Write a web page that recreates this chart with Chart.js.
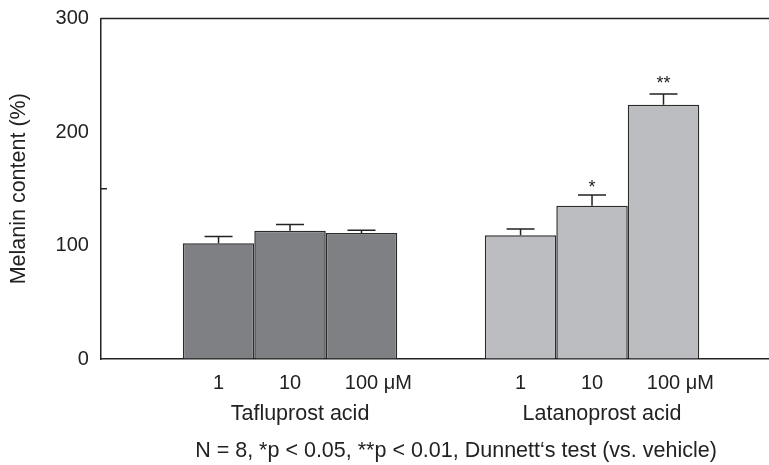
<!DOCTYPE html>
<html>
<head>
<meta charset="utf-8">
<script src="https://cdn.jsdelivr.net/npm/chart.js@4.4.1/dist/chart.umd.min.js"></script>
<style>
  html, body { margin: 0; padding: 0; background: #fff; }
  #wrap { width: 769px; height: 465px; }
</style>
</head>
<body>
<div id="wrap"><canvas id="chart" width="769" height="465"></canvas></div>
<script>
// data
const drugs = ['Tafluprost acid', 'Latanoprost acid'];
const doses = ['1', '10', '100'];
const doseUnit = ' μM';
const tafluprost = [102, 113, 111];
const latanoprost = [109, 135, 224];
const tafluprostSem = [6, 5.5, 2.5];
const latanoprostSem = [5.5, 9.5, 9.5];
const tafluprostSig = ['', '', ''];
const latanoprostSig = ['', '*', '**'];
const yTicks = [0, 100, 200, 300];
const footnote = 'N = 8, *p < 0.05, **p < 0.01, Dunnett\u2018s test (vs. vehicle)';

const values = [tafluprost, latanoprost];
const sems = [tafluprostSem, latanoprostSem];
const sigs = [tafluprostSig, latanoprostSig];
const fills = ['#7f8084', '#bcbdc1'];
const ink = '#222222';
const font = 'Liberation Sans, Arial, Helvetica, sans-serif';

const datasets = doses.map(function (d, i) {
  return {
    label: d,
    data: drugs.map(function (_, g) { return { x: g, y: values[g][i] }; }),
    backgroundColor: fills,
    borderColor: '#2b2b2b',
    borderWidth: 1.5,
    barPercentage: 1,
    categoryPercentage: 0.71
  };
});

// error bars, asterisks, labels under the axis, extra frame bits
const extras = {
  id: 'extras',
  afterDatasetsDraw(chart) {
    const ctx = chart.ctx;
    const y = chart.scales.y;
    const area = chart.chartArea;
    const centres = [0, 0];
    ctx.save();
    ctx.strokeStyle = ink;
    ctx.fillStyle = ink;
    ctx.lineWidth = 1.5;
    doses.forEach(function (d, i) {
      const meta = chart.getDatasetMeta(i);
      meta.data.forEach(function (bar, g) {
        centres[g] += bar.x / doses.length;
        const top = y.getPixelForValue(values[g][i] + sems[g][i]);
        ctx.beginPath();
        ctx.moveTo(bar.x, bar.y);
        ctx.lineTo(bar.x, top);
        ctx.moveTo(bar.x - 14, top);
        ctx.lineTo(bar.x + 14, top);
        ctx.stroke();
        if (sigs[g][i]) {
          ctx.font = '18px ' + font;
          ctx.textAlign = 'center';
          ctx.textBaseline = 'alphabetic';
          ctx.fillText(sigs[g][i], bar.x, top - 2 - 3 * (sigs[g][i].length - 1));
        }
        // dose label, number centred on the bar
        ctx.font = '20px ' + font;
        ctx.textBaseline = 'middle';
        ctx.textAlign = 'left';
        const w = ctx.measureText(d).width;
        const txt = i === doses.length - 1 ? d + doseUnit : d;
        ctx.fillText(txt, bar.x - w / 2, area.bottom + 24);
      });
    });
    // group names
    ctx.font = '21.5px ' + font;
    ctx.textAlign = 'center';
    ctx.textBaseline = 'middle';
    drugs.forEach(function (name, g) {
      ctx.fillText(name, centres[g] + 10, area.bottom + 55);
    });
    // top frame line
    ctx.beginPath();
    ctx.moveTo(area.left, area.top);
    ctx.lineTo(area.right, area.top);
    ctx.stroke();
    // inner minor tick at 150
    const p = y.getPixelForValue(150);
    ctx.beginPath();
    ctx.moveTo(area.left, p);
    ctx.lineTo(area.left + 6, p);
    ctx.stroke();
    // footnote
    ctx.font = '21.5px ' + font;
    ctx.fillText(footnote, 456, 451);
    ctx.restore();
  }
};

new Chart(document.getElementById('chart'), {
  type: 'bar',
  data: { datasets: datasets },
  plugins: [extras],
  options: {
    responsive: false,
    animation: false,
    layout: { padding: { left: 2.6, right: 0, top: 18.5, bottom: 106 } },
    plugins: { legend: { display: false }, tooltip: { enabled: false } },
    scales: {
      x: {
        type: 'linear',
        offset: false,
        min: -0.626,
        max: 1.586,
        afterBuildTicks: function (s) { s.ticks = drugs.map(function (_, g) { return { value: g }; }); },
        grid: { display: true, drawOnChartArea: false, drawTicks: false },
        border: { display: true, color: ink, width: 1.5 },
        ticks: { display: false }
      },
      y: {
        min: 0,
        max: 300,
        afterBuildTicks: function (s) { s.ticks = yTicks.map(function (v) { return { value: v }; }); },
        afterFit: function (s) { s.paddingTop = 0; s.paddingBottom = 0; },
        grid: { display: true, drawOnChartArea: false, drawTicks: false },
        border: { display: true, color: ink, width: 1.5 },
        ticks: { color: ink, font: { family: font, size: 20 }, padding: 12 },
        title: {
          display: true,
          text: 'Melanin content (%)',
          color: ink,
          font: { family: font, size: 21.5 },
          padding: { top: 4, bottom: 11.2 }
        }
      }
    }
  }
});
</script>
</body>
</html>
